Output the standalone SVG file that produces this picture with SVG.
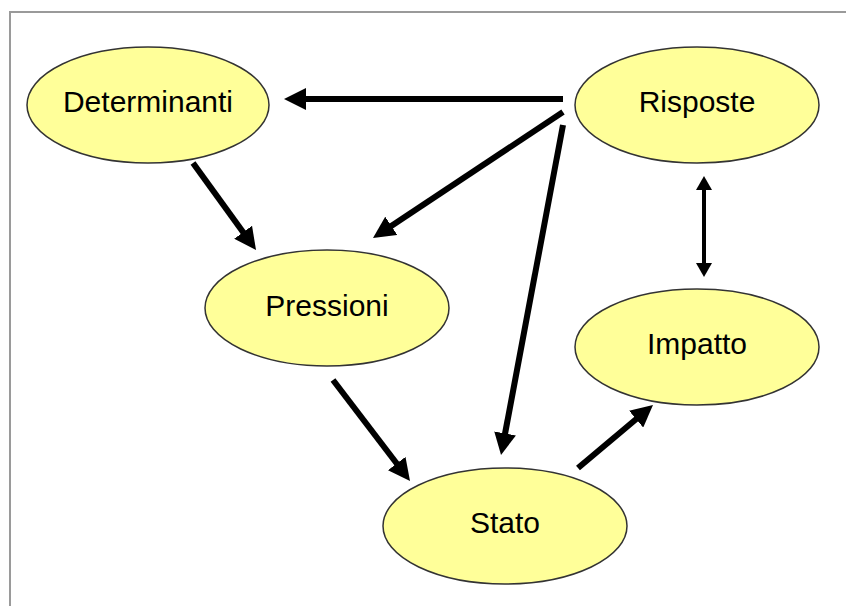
<svg xmlns="http://www.w3.org/2000/svg" width="846" height="606" viewBox="0 0 846 606">
<style>
.node ellipse{fill:#FFFF99;stroke:#333333;stroke-width:1.5}
.node text{font-family:"Liberation Sans",Arial,sans-serif;font-size:30px;fill:#000;text-anchor:middle}
.conn{stroke:#000;stroke-width:6;fill:none}
.conn2{stroke:#000;stroke-width:4;fill:none}
</style>
<defs>
<marker id="ah" viewBox="0 0 22 22" refX="1" refY="11" markerWidth="22" markerHeight="22" markerUnits="userSpaceOnUse" orient="auto">
<path d="M0,0 L22,11 L0,22 z" fill="#000"/>
</marker>
<marker id="ahs" viewBox="0 0 14 16" refX="1" refY="8" markerWidth="14" markerHeight="16" markerUnits="userSpaceOnUse" orient="auto-start-reverse">
<path d="M0,0 L14,8 L0,16 z" fill="#000"/>
</marker>
</defs>
<rect x="0" y="0" width="846" height="606" fill="#fff"/>
<rect x="10" y="12" width="850" height="610" fill="#fff" stroke="#9a9a9a" stroke-width="2"/>
<g id="connectors">
<line class="conn" x1="563" y1="99" x2="305" y2="99" marker-end="url(#ah)"/>
<line class="conn" x1="563" y1="112" x2="390.5" y2="226.4" marker-end="url(#ah)"/>
<line class="conn" x1="563" y1="125" x2="504.9" y2="434.4" marker-end="url(#ah)"/>
<line class="conn" x1="193" y1="163" x2="243.7" y2="233" marker-end="url(#ah)"/>
<line class="conn" x1="333" y1="380" x2="397.3" y2="464.3" marker-end="url(#ah)"/>
<line class="conn" x1="578" y1="468" x2="636.9" y2="418.5" marker-end="url(#ah)"/>
<line class="conn2" x1="704" y1="189" x2="704" y2="264" marker-start="url(#ahs)" marker-end="url(#ahs)"/>
</g>
<g id="determinanti" class="node">
<ellipse cx="148" cy="105" rx="121" ry="58"/>
<text x="148" y="112">Determinanti</text>
</g>
<g id="risposte" class="node">
<ellipse cx="697" cy="105" rx="122" ry="58"/>
<text x="697" y="112">Risposte</text>
</g>
<g id="pressioni" class="node">
<ellipse cx="327" cy="308" rx="122" ry="58"/>
<text x="327" y="316">Pressioni</text>
</g>
<g id="impatto" class="node">
<ellipse cx="697" cy="347" rx="122" ry="58"/>
<text x="697" y="354">Impatto</text>
</g>
<g id="stato" class="node">
<ellipse cx="505" cy="526" rx="122" ry="58"/>
<text x="505" y="533">Stato</text>
</g>
</svg>
